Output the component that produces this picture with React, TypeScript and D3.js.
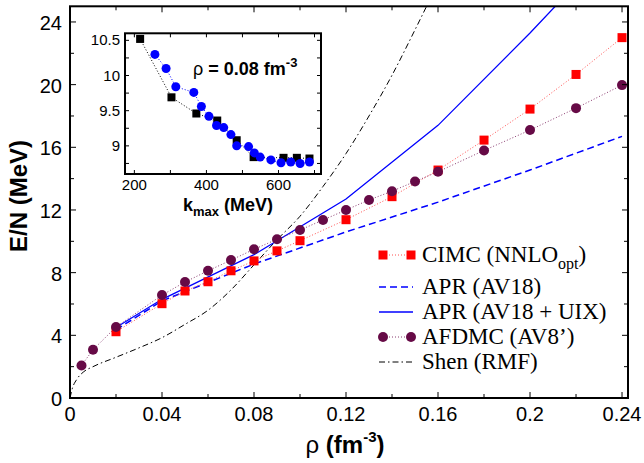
import * as d3 from "d3";

// main panel: neutron matter E/N vs density
const cimcRho = [0.02, 0.04, 0.05, 0.06, 0.07, 0.08, 0.09, 0.1, 0.12, 0.14, 0.16, 0.18, 0.2, 0.22, 0.24];
const cimcE = [4.23, 6.02, 6.83, 7.42, 8.12, 8.75, 9.39, 10.04, 11.38, 12.85, 14.55, 16.46, 18.44, 20.65, 23.0];

const afdmcRho = [0.005, 0.01, 0.02, 0.04, 0.05, 0.06, 0.07, 0.08, 0.09, 0.1, 0.11, 0.12, 0.13, 0.14, 0.15, 0.16, 0.18, 0.2, 0.22, 0.24];
const afdmcE = [2.08, 3.08, 4.53, 6.57, 7.4, 8.12, 8.8, 9.49, 10.13, 10.72, 11.36, 12.0, 12.64, 13.2, 13.82, 14.44, 15.8, 17.1, 18.5, 19.97];

const aprRho = [0.02, 0.04, 0.08, 0.12, 0.16, 0.2, 0.24];
const aprAv18E = [4.35, 6.2, 8.55, 10.6, 12.5, 14.55, 16.7];
const aprUixE = [4.5, 6.3, 9.15, 12.7, 17.4, 23.3, 29.5];

const shenRho = [0, 0.001, 0.003, 0.006, 0.01, 0.02, 0.03, 0.04, 0.05, 0.06, 0.07, 0.08, 0.09, 0.1, 0.11, 0.12, 0.13, 0.14, 0.15, 0.16];
const shenE = [0, 0.6, 1.2, 1.68, 2.0, 2.6, 3.2, 3.85, 4.7, 5.6, 6.9, 8.5, 10.1, 11.6, 13.5, 15.6, 18.0, 20.6, 23.5, 26.5];

const xTicks = [0, 0.04, 0.08, 0.12, 0.16, 0.2, 0.24];
const xMinor = [0.02, 0.06, 0.1, 0.14, 0.18, 0.22];
const yTicks = [0, 4, 8, 12, 16, 20, 24];
const yMinor = [2, 6, 10, 14, 18, 22];

// inset: convergence in k_max at rho = 0.08
const sqK = [216, 303, 372, 430, 484, 531, 614, 651, 686];
const sqE = [10.52, 9.69, 9.46, 9.36, 9.08, 8.84, 8.83, 8.83, 8.82];
const circK = [257, 288, 315, 365, 386, 407, 428, 448, 468, 484, 517, 533, 549, 579, 607, 634, 660, 686];
const circE = [10.3, 10.1, 9.84, 9.76, 9.56, 9.42, 9.29, 9.26, 9.16, 9.0, 8.99, 8.9, 8.84, 8.8, 8.76, 8.77, 8.75, 8.77];

const ixTicks = [200, 400, 600];
const ixMinor = [300, 500, 700];
const iyTicks = [9, 9.5, 10, 10.5];
const iyMinor = [8.75, 9.25, 9.75, 10.25];

const SANS = "'Liberation Sans', Arial, Helvetica, sans-serif";
const SERIF = "'Liberation Serif', 'Times New Roman', serif";
const RED = "#ff0000";
const PURPLE = "#660a46";
const BLUE = "#0000ff";

const zip = (a: number[], b: number[]) => a.map((v, i) => [v, b[i]] as [number, number]);

export default function App() {
  const x = d3.scaleLinear().domain([0, 0.2426]).range([70, 628]);
  const y = d3.scaleLinear().domain([0, 25]).range([398, 6.3]);
  const ix = d3.scaleLinear().domain([174, 718]).range([125, 321]);
  const iy = d3.scaleLinear().domain([8.6, 10.6]).range([174, 33.3]);

  const line = d3.line<[number, number]>().x((d) => x(d[0])).y((d) => y(d[1]));
  const smooth = d3
    .line<[number, number]>()
    .x((d) => x(d[0]))
    .y((d) => y(d[1]))
    .curve(d3.curveMonotoneX);
  const iline = d3.line<[number, number]>().x((d) => ix(d[0])).y((d) => iy(d[1]));

  const [x0, x1] = x.range();
  const [y0, y1] = y.range();
  const [ix0, ix1] = ix.range();
  const [iy0, iy1] = iy.range();

  const legendRows = [255, 287, 312, 337, 362];
  const lx0 = 383;
  const lx1 = 411;

  return (
    <svg
      width={644}
      height={463}
      style={{ position: "absolute", left: 0, top: 0, background: "#fff" }}
    >
      <defs>
        <clipPath id="plot">
          <rect x={x0} y={y1} width={x1 - x0} height={y0 - y1} />
        </clipPath>
      </defs>

      {/* curves */}
      <g clipPath="url(#plot)" fill="none">
        <path d={smooth(zip(shenRho, shenE)) ?? ""} stroke="#000" strokeWidth={1} strokeDasharray="6,3,1.5,3" />
        <path d={line(zip(aprRho, aprAv18E)) ?? ""} stroke={BLUE} strokeWidth={1.5} strokeDasharray="7,4" />
        <path d={line(zip(aprRho, aprUixE)) ?? ""} stroke={BLUE} strokeWidth={1.3} />
        <path d={line(zip(cimcRho, cimcE)) ?? ""} stroke="#ff5050" strokeWidth={1} strokeDasharray="1,2" />
        <path d={line(zip(afdmcRho, afdmcE)) ?? ""} stroke="#8a3c70" strokeWidth={1} strokeDasharray="1,2" />
      </g>
      {cimcRho.map((r, i) => (
        <rect key={"s" + i} x={x(r) - 4.5} y={y(cimcE[i]) - 4.5} width={9} height={9} fill={RED} />
      ))}
      {afdmcRho.map((r, i) => (
        <circle key={"c" + i} cx={x(r)} cy={y(afdmcE[i])} r={5} fill={PURPLE} />
      ))}

      {/* main frame and ticks */}
      <rect x={x0} y={y1} width={x1 - x0} height={y0 - y1} fill="none" stroke="#000" strokeWidth={2} />
      {xTicks.map((t) => (
        <g key={"xt" + t}>
          <line x1={x(t)} x2={x(t)} y1={y0} y2={y0 - 6} stroke="#000" />
          <line x1={x(t)} x2={x(t)} y1={y1} y2={y1 + 6} stroke="#000" />
          <text x={x(t)} y={421} textAnchor="middle" fontFamily={SANS} fontSize={20}>
            {String(t)}
          </text>
        </g>
      ))}
      {xMinor.map((t) => (
        <g key={"xm" + t}>
          <line x1={x(t)} x2={x(t)} y1={y0} y2={y0 - 4} stroke="#000" />
          <line x1={x(t)} x2={x(t)} y1={y1} y2={y1 + 4} stroke="#000" />
        </g>
      ))}
      {yTicks.map((t) => (
        <g key={"yt" + t}>
          <line x1={x0} x2={x0 + 6} y1={y(t)} y2={y(t)} stroke="#000" />
          <line x1={x1} x2={x1 - 6} y1={y(t)} y2={y(t)} stroke="#000" />
          <text x={62} y={y(t) + 8} textAnchor="end" fontFamily={SANS} fontSize={20}>
            {String(t)}
          </text>
        </g>
      ))}
      {yMinor.map((t) => (
        <g key={"ym" + t}>
          <line x1={x0} x2={x0 + 4} y1={y(t)} y2={y(t)} stroke="#000" />
          <line x1={x1} x2={x1 - 4} y1={y(t)} y2={y(t)} stroke="#000" />
        </g>
      ))}

      {/* axis titles */}
      <text x={345} y={453} textAnchor="middle" fontFamily={SANS} fontSize={24} fontWeight="bold">
        <tspan fontWeight="normal">ρ</tspan> (fm
        <tspan fontSize={15} dy={-11}>-3</tspan>
        <tspan dy={11}>)</tspan>
      </text>
      <text
        transform="translate(27,196) rotate(-90)"
        textAnchor="middle"
        fontFamily={SANS}
        fontSize={24}
        fontWeight="bold"
      >
        E/N (MeV)
      </text>

      {/* legend */}
      <g fontFamily={SERIF} fontSize={23}>
        <line x1={lx0} x2={lx1} y1={legendRows[0]} y2={legendRows[0]} stroke="#ff5050" strokeDasharray="1,2" />
        <rect x={lx0 - 4.5} y={legendRows[0] - 4.5} width={9} height={9} fill={RED} />
        <rect x={lx1 - 4.5} y={legendRows[0] - 4.5} width={9} height={9} fill={RED} />
        <text x={422} y={legendRows[0] + 7}>
          CIMC (NNLO<tspan fontSize={16} dy={7}>opt</tspan>
          <tspan dy={-7}>)</tspan>
        </text>

        <line x1={lx0 - 4} x2={lx1 + 2} y1={legendRows[1]} y2={legendRows[1]} stroke={BLUE} strokeWidth={1.5} strokeDasharray="7,4" />
        <text x={422} y={legendRows[1] + 7}>APR (AV18)</text>

        <line x1={lx0 - 4} x2={lx1 + 2} y1={legendRows[2]} y2={legendRows[2]} stroke={BLUE} strokeWidth={1.3} />
        <text x={422} y={legendRows[2] + 7}>APR (AV18 + UIX)</text>

        <line x1={lx0} x2={lx1} y1={legendRows[3]} y2={legendRows[3]} stroke="#8a3c70" strokeDasharray="1,2" />
        <circle cx={lx0} cy={legendRows[3]} r={5} fill={PURPLE} />
        <circle cx={lx1} cy={legendRows[3]} r={5} fill={PURPLE} />
        <text x={422} y={legendRows[3] + 7}>AFDMC (AV8’)</text>

        <line x1={lx0 - 4} x2={lx1 + 2} y1={legendRows[4]} y2={legendRows[4]} stroke="#000" strokeDasharray="6,3,1.5,3" />
        <text x={422} y={legendRows[4] + 7}>Shen (RMF)</text>
      </g>

      {/* inset */}
      <rect x={ix0} y={iy1} width={ix1 - ix0} height={iy0 - iy1} fill="#fff" />
      <path d={iline(zip(sqK, sqE)) ?? ""} fill="none" stroke="#000" strokeWidth={1} strokeDasharray="1,2" />
      <path d={iline(zip(circK, circE)) ?? ""} fill="none" stroke={BLUE} strokeWidth={1} strokeDasharray="1,2" />
      {sqK.map((k, i) => (
        <rect key={"is" + i} x={ix(k) - 4} y={iy(sqE[i]) - 4} width={8} height={8} fill="#000" />
      ))}
      {circK.map((k, i) => (
        <circle key={"ic" + i} cx={ix(k)} cy={iy(circE[i])} r={4.5} fill={BLUE} />
      ))}
      <rect x={ix0} y={iy1} width={ix1 - ix0} height={iy0 - iy1} fill="none" stroke="#000" strokeWidth={2} />
      {[...ixTicks, ...ixMinor].map((t) => (
        <g key={"ixt" + t}>
          <line x1={ix(t)} x2={ix(t)} y1={iy0} y2={iy0 - 4} stroke="#000" />
          <line x1={ix(t)} x2={ix(t)} y1={iy1} y2={iy1 + 4} stroke="#000" />
        </g>
      ))}
      {ixTicks.map((t) => (
        <text key={"ixl" + t} x={ix(t)} y={190} textAnchor="middle" fontFamily={SANS} fontSize={15}>
          {String(t)}
        </text>
      ))}
      {[...iyTicks, ...iyMinor].map((t) => (
        <g key={"iyt" + t}>
          <line x1={ix0} x2={ix0 + 4} y1={iy(t)} y2={iy(t)} stroke="#000" />
          <line x1={ix1} x2={ix1 - 4} y1={iy(t)} y2={iy(t)} stroke="#000" />
        </g>
      ))}
      {iyTicks.map((t) => (
        <text key={"iyl" + t} x={120} y={iy(t) + 5} textAnchor="end" fontFamily={SANS} fontSize={15}>
          {String(t)}
        </text>
      ))}
      <text x={228} y={211} textAnchor="middle" fontFamily={SANS} fontSize={18} fontWeight="bold">
        k<tspan fontSize={13} dy={5}>max</tspan>
        <tspan dy={-5}> (MeV)</tspan>
      </text>
      <text x={193} y={75} fontFamily={SANS} fontSize={18} fontWeight="bold">
        <tspan fontWeight="normal">ρ</tspan> = 0.08 fm
        <tspan fontSize={13} dy={-8}>-3</tspan>
      </text>
    </svg>
  );
}
